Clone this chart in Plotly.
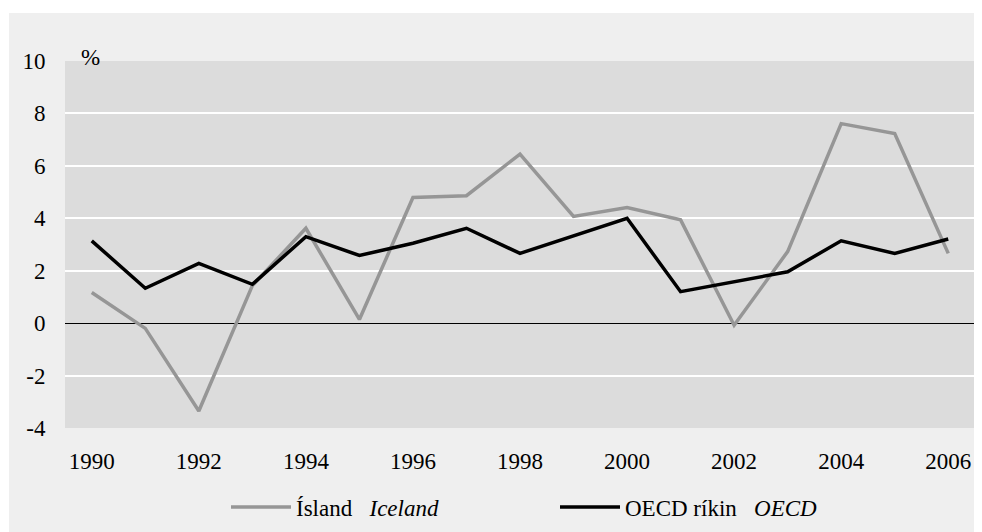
import plotly.graph_objects as go

years = list(range(1990, 2007))
iceland = [1.17, -0.2, -3.35, 1.43, 3.62, 0.14, 4.79, 4.86, 6.45, 4.07, 4.41, 3.94, -0.08, 2.73, 7.61, 7.23, 2.66]
oecd = [3.14, 1.33, 2.28, 1.48, 3.30, 2.58, 3.05, 3.62, 2.66, 3.33, 4.0, 1.2, 1.58, 1.96, 3.14, 2.66, 3.21]
xtick_vals = list(range(1990, 2007, 2))
ytick_vals = [-4, -2, 0, 2, 4, 6, 8, 10]
ytick_text = ["-4", "-2", "0", "2", "4", "6", "8", "10"]

FONT = "Liberation Serif"
FS = 23

fig = go.Figure()
fig.add_trace(go.Scatter(x=years, y=iceland, mode="lines",
                         name="Ísland   <i>Iceland</i>",
                         line=dict(color="#969696", width=3.5)))
fig.add_trace(go.Scatter(x=years, y=oecd, mode="lines",
                         name="OECD ríkin   <i>OECD</i>",
                         line=dict(color="#000000", width=3.5)))

# page body has an 8px margin; figure sized to fit the 982x532 window
W, H = 974, 524
L, R, T, B = 57, 7, 53, 104
pw, ph = W - L - R, H - T - B

# outer light-gray panel
fig.add_shape(type="rect", xref="paper", yref="paper",
              x0=(1 - L) / pw, x1=(W - L) / pw + 0.01,
              y0=-(B + 5) / ph, y1=(ph + T - 5) / ph,
              fillcolor="#efefef", line=dict(width=0), layer="below")
# plot area
fig.add_shape(type="rect", xref="paper", yref="paper", x0=0, x1=1, y0=0, y1=1,
              fillcolor="#dcdcdc", line=dict(width=0), layer="below")

fig.add_annotation(text="%", xref="paper", yref="paper",
                   x=(71 - L) / pw, y=(ph + T - 35) / ph,
                   showarrow=False, font=dict(family=FONT, size=FS, color="black"))

fig.update_layout(
    width=W, height=H,
    margin=dict(l=L, r=R, t=T, b=B, autoexpand=False),
    paper_bgcolor="white",
    plot_bgcolor="rgba(0,0,0,0)",
    font=dict(family=FONT, size=FS, color="black"),
    showlegend=True,
    legend=dict(orientation="h", x=218 / W, xref="container", xanchor="left",
                y=(H - 499) / H, yref="container", yanchor="middle",
                bgcolor="rgba(0,0,0,0)",
                itemwidth=60, entrywidth=254, entrywidthmode="pixels",
                font=dict(family=FONT, size=FS, color="black"),
                tracegroupgap=0),
    xaxis=dict(range=[1989.5, 2006.5], tickvals=xtick_vals,
               showgrid=False, zeroline=False, showline=False,
               ticks="outside", ticklen=12, tickcolor="rgba(0,0,0,0)",
               tickfont=dict(family=FONT, size=FS, color="black")),
    yaxis=dict(range=[-4, 10], tickvals=ytick_vals, ticktext=ytick_text,
               showgrid=True, gridcolor="white", gridwidth=2,
               zeroline=True, zerolinecolor="black", zerolinewidth=1,
               showline=False,
               ticks="outside", ticklen=14, tickcolor="rgba(0,0,0,0)",
               tickfont=dict(family=FONT, size=FS, color="black")),
)

fig.write_html("out.html")
